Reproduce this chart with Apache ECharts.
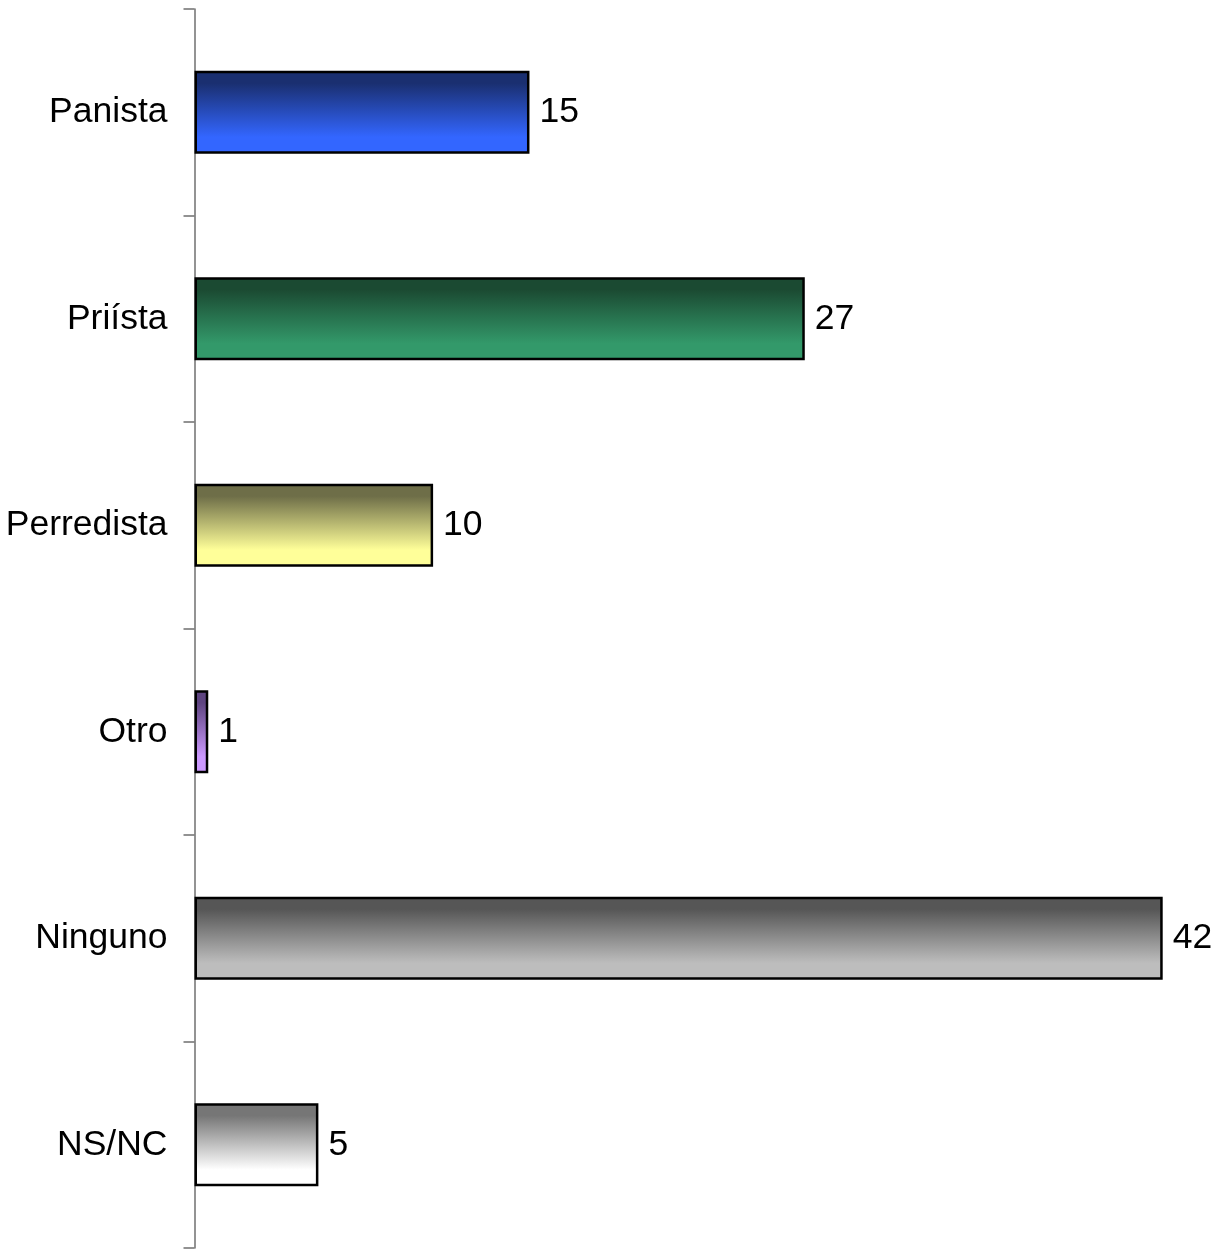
<!DOCTYPE html>
<html>
<head>
<meta charset="utf-8">
<script src="https://cdn.jsdelivr.net/npm/echarts@6/dist/echarts.min.js"></script>
<style>html,body{margin:0;padding:0;background:#fff}#c{width:1218px;height:1249px}</style>
</head>
<body>
<div id="c"></div>
<script>
const categories = ['Panista', 'Priísta', 'Perredista', 'Otro', 'Ninguno', 'NS/NC'];
const values = [14.6, 26.6, 10.4, 0.6, 42.2, 5.4];
const labels = ['15', '27', '10', '1', '42', '5'];
const topColors = ['#1a2f70', '#1b4a32', '#6e6e48', '#5e4480', '#565656', '#767676'];
const bottomColors = ['#3366ff', '#33996a', '#ffff99', '#cc99ff', '#bdbdbd', '#ffffff'];

const chart = echarts.init(document.getElementById('c'), null, {renderer: 'canvas'});
const data = values.map((v, i) => ({
  value: v,
  itemStyle: {
    color: new echarts.graphic.LinearGradient(0, 0, 0, 1, [
      {offset: 0, color: topColors[i]},
      {offset: 0.15, color: topColors[i]},
      {offset: 0.8, color: bottomColors[i]},
      {offset: 1, color: bottomColors[i]}
    ]),
    borderColor: '#000',
    borderWidth: 2.5
  },
  label: {formatter: labels[i]}
}));
chart.setOption({
  animation: false,
  grid: {left: 194.5, top: 9, bottom: 1, right: 14, containLabel: false},
  xAxis: {
    type: 'value', min: 0, max: 44,
    show: false
  },
  yAxis: {
    type: 'category', data: categories, inverse: true,
    axisLine: {show: true, lineStyle: {color: '#6f6f6f', width: 1.5}},
    axisTick: {show: true, length: 11, lineStyle: {color: '#6f6f6f', width: 1.5}},
    axisLabel: {margin: 27, color: '#000', fontSize: 35.5, padding: [8, 0, 0, 0], fontFamily: 'Liberation Sans, Arial, sans-serif'}
  },
  series: [{
    type: 'bar',
    data: data,
    barWidth: 83,
    label: {
      show: true, position: 'right', distance: 10, padding: [8, 0, 0, 0],
      color: '#000', fontSize: 35.5, fontFamily: 'Liberation Sans, Arial, sans-serif'
    }
  }]
});
</script>
</body>
</html>
